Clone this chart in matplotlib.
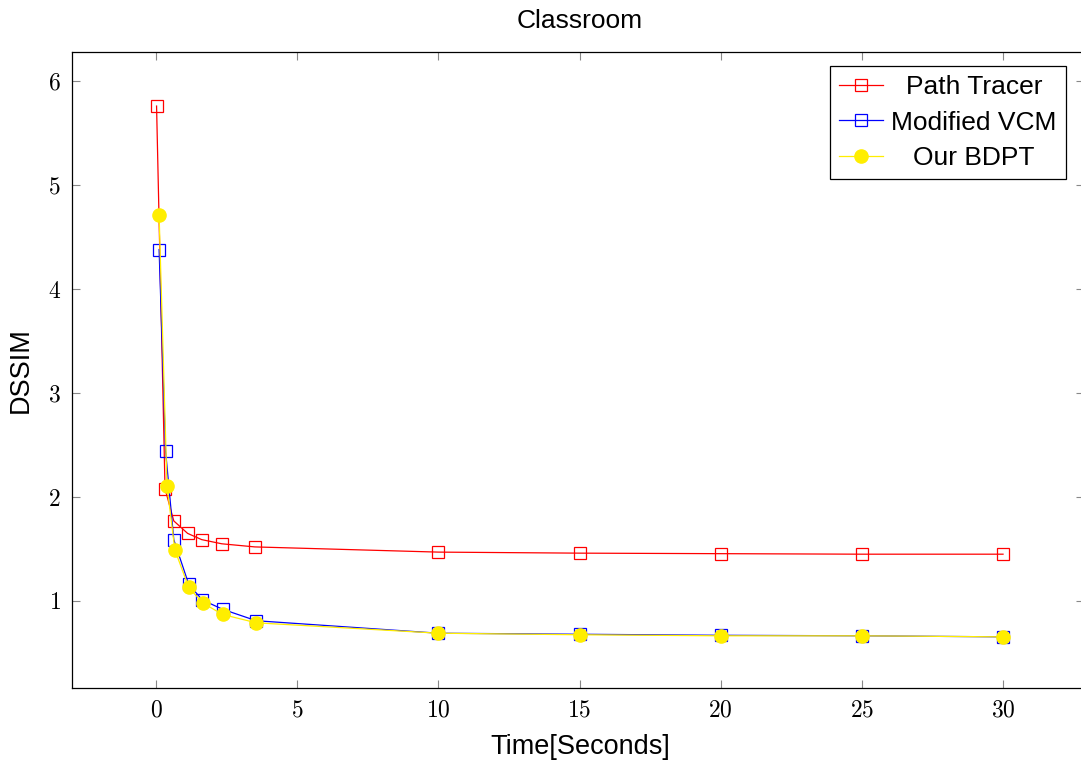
import matplotlib
matplotlib.use("Agg")
import matplotlib.pyplot as plt
from matplotlib.ticker import FuncFormatter

plt.rcParams['mathtext.fontset'] = 'cm'
plt.rcParams['font.family'] = ['Liberation Sans', 'DejaVu Sans']

# Data
pt_time = [0.02, 0.32, 0.63, 1.12, 1.62, 2.33, 3.5, 10, 15, 20, 25, 30]
pt_dssim = [5.76, 2.08, 1.77, 1.65, 1.59, 1.55, 1.52, 1.47, 1.46, 1.455, 1.45, 1.45]

vcm_time = [0.11, 0.34, 0.63, 1.16, 1.64, 2.36, 3.55, 10, 15, 20, 25, 30]
vcm_dssim = [4.38, 2.44, 1.59, 1.16, 1.01, 0.92, 0.81, 0.69, 0.68, 0.67, 0.665, 0.655]

bdpt_time = [0.11, 0.39, 0.67, 1.16, 1.66, 2.36, 3.55, 10, 15, 20, 25, 30]
bdpt_dssim = [4.71, 2.105, 1.49, 1.13, 0.98, 0.87, 0.79, 0.69, 0.675, 0.665, 0.665, 0.655]

xticks = [0, 5, 10, 15, 20, 25, 30]
yticks = [1, 2, 3, 4, 5, 6]

fig = plt.figure(figsize=(10.81, 7.60), dpi=100)
ax = fig.add_axes([72/1081, 72/760, (1083.5-72)/1081, (688-52)/760])

ax.plot(pt_time, pt_dssim, color='red', lw=0.9, marker='s', markersize=8.5,
        markerfacecolor='none', markeredgecolor='red', markeredgewidth=0.9, label='Path Tracer')
ax.plot(vcm_time, vcm_dssim, color='blue', lw=0.9, marker='s', markersize=8.5,
        markerfacecolor='none', markeredgecolor='blue', markeredgewidth=0.9, label='Modified VCM')
ax.plot(bdpt_time, bdpt_dssim, color='#ffee00', lw=0.9, marker='o', markersize=9.5,
        markerfacecolor='#ffee00', markeredgecolor='#ffee00', label='Our BDPT')

ax.set_xlim(-2.975, 32.85)
ax.set_ylim(0.163, 6.28)
ax.set_xticks(xticks)
ax.set_yticks(yticks)
fmt = FuncFormatter(lambda v, p: r'$%d$' % v)
ax.xaxis.set_major_formatter(fmt)
ax.yaxis.set_major_formatter(fmt)
ax.tick_params(direction='in', top=True, right=True, length=5.5, width=0.8,
               color='#888888', labelsize=17, pad=8)
for s in ax.spines.values():
    s.set_linewidth(0.9)

cx = (580 - 72) / (1083.5 - 72)
ax.set_title('Classroom', fontsize=19, pad=17, x=cx)
ax.set_xlabel('Time[Seconds]', fontsize=19.5, labelpad=9)
ax.xaxis.label.set_x(cx)
ax.set_ylabel('DSSIM', fontsize=19.5, labelpad=10)

leg = ax.legend(loc='upper right', fontsize=19, frameon=True, fancybox=False,
                edgecolor='black', framealpha=1, bbox_to_anchor=(1066/1081, 1 - 66/760),
                bbox_transform=fig.transFigure, borderaxespad=0,
                handlelength=1.67, handletextpad=0.3, borderpad=0.35, labelspacing=0.43)
leg.get_frame().set_linewidth(0.9)

# center legend labels within the text column
fig.canvas.draw()
texts = leg.get_texts()
widths = [t.get_window_extent().width for t in texts]
maxw = max(widths)
for t, w in zip(texts, widths):
    t.set_x((maxw - w) / 2)

fig.savefig('out.png', dpi=100)
